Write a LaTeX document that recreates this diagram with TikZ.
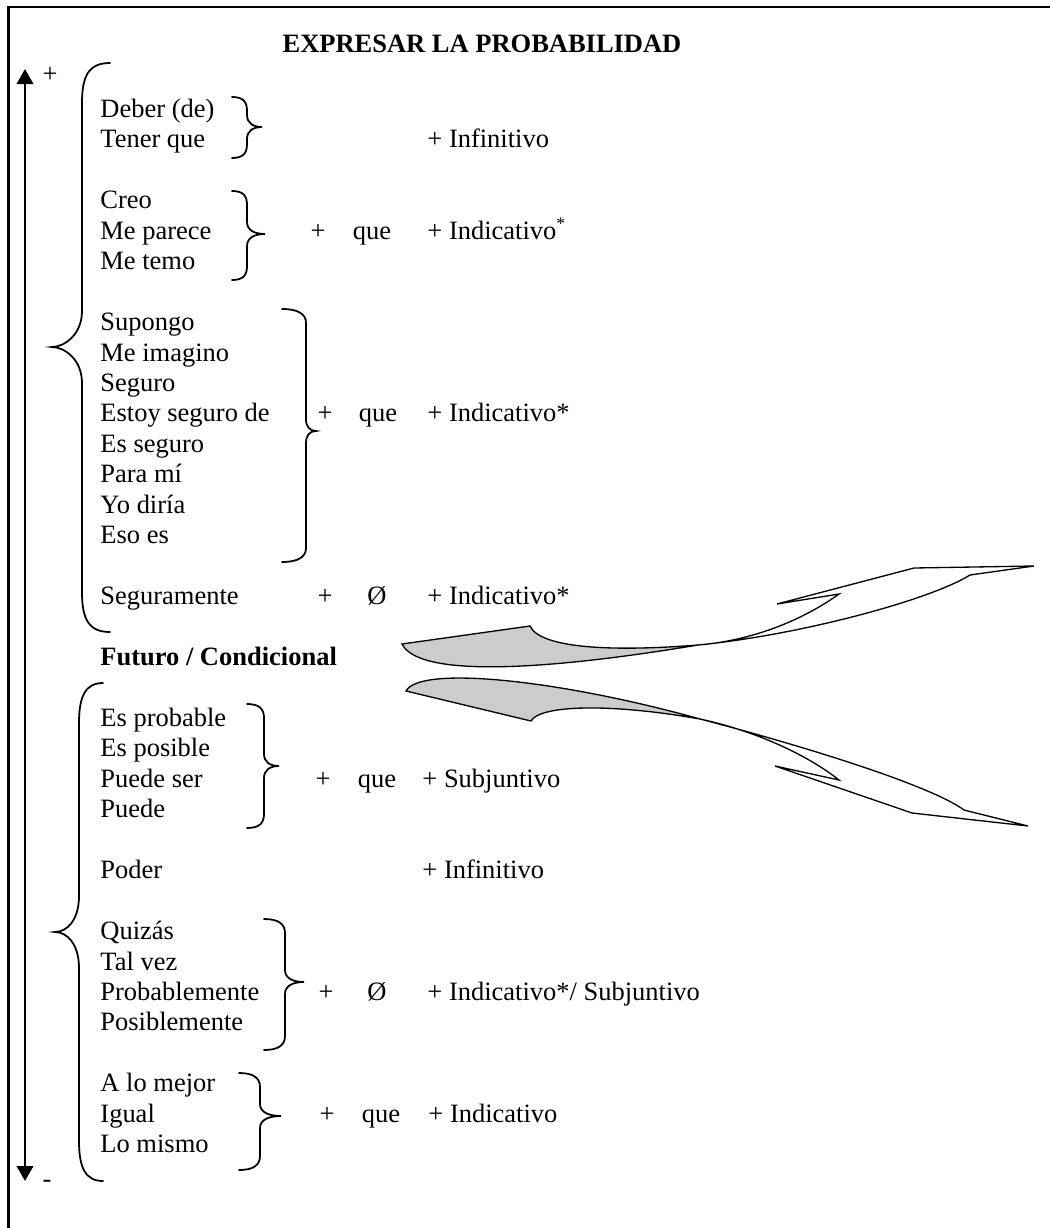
\documentclass[tikz,border=0pt]{standalone}
\usepackage{fontspec}
\setmainfont{Liberation Serif}
\usetikzlibrary{arrows.meta}
% right-hand brace: curl end x, vertical x, tip x, top y, tip y, bottom y
\newcommand\rbr[6]{%
  \draw[brace] (#1,#4) .. controls ({(#1+#2)/2+4},#4) and (#2,{#4+5}) .. (#2,{#4+14})
    -- (#2,{#5-12}) .. controls (#2,{#5-4}) and ({#2+(#3-#2)*0.4},#5) .. (#3,#5)
    .. controls ({#2+(#3-#2)*0.4},#5) and (#2,{#5+4}) .. (#2,{#5+12})
    -- (#2,{#6-14}) .. controls (#2,{#6-5}) and ({(#1+#2)/2+4},#6) .. (#1,#6);}
% left-hand bracket with a point
\newcommand\lbr[6]{%
  \draw[brace] (#1,#4) .. controls ({#2+6},#4) and (#2,{#4+14}) .. (#2,{#4+40})
    -- (#2,{#5-36}) .. controls (#2,{#5-12}) and ({#3+12},#5) .. (#3,#5)
    .. controls ({#3+12},#5) and (#2,{#5+12}) .. (#2,{#5+36})
    -- (#2,{#6-40}) .. controls (#2,{#6-14}) and ({#2+6},#6) .. (#1,#6);}
\begin{document}
\begin{tikzpicture}[x=0.4531pt,y=-0.4531pt,
  txt/.style={anchor=base west,inner sep=0pt,font=\fontsize{12}{14}\selectfont},
  ctr/.style={anchor=base,inner sep=0pt,font=\fontsize{12}{14}\selectfont},
  bold/.style={txt,font=\fontsize{12}{14}\selectfont\bfseries},
  brace/.style={line width=0.8pt,line cap=round},
  ribbon/.style={line width=0.6pt,line join=miter},
  shade/.style={fill=black!20}]
\useasboundingbox (0,0) rectangle (1050,1228);

% frame (left and top edges)
\draw[line width=1.2pt] (8.5,1228) -- (8.5,7) -- (1050,7);

% title
\node[ctr,font=\fontsize{12}{14}\selectfont\bfseries] (title) at (482,53) {EXPRESAR LA PROBABILIDAD};

% probability scale
\coordinate (hi) at (25,69);
\coordinate (lo) at (25,1181);
\draw[line width=1.2pt,{Triangle[width=7.4pt,length=6.8pt]}-{Triangle[width=7.4pt,length=6.8pt]}] (lo) -- (hi);
\node[ctr] (plus) at (50,83) {+};
\node[ctr] (minus) at (47,1187) {-};

% outer brackets
\lbr{110}{82}{52}{63}{347}{632}
\lbr{103}{79}{55}{683}{932}{1181}

% group 1
\node[txt] (deber) at (100,117.4) {Deber (de)};
\node[txt] (tener) at (100,147.85) {Tener que};
\rbr{232}{247}{262}{97}{127}{158}
\node[txt] (inf1) at (427,147.85) {+ Infinitivo};

% group 2
\node[txt] (creo) at (100,208.75) {Creo};
\node[txt] (parece) at (100,239.2) {Me parece};
\node[txt] (temo) at (100,269.65) {Me temo};
\rbr{232}{247}{265}{191}{234}{280}
\node[ctr] (p2) at (318,239.2) {+};
\node[ctr] (que2) at (372,239.2) {que};
\node[txt] (ind2) at (427,239.2) {+ Indicativo\textsuperscript{*}};

% group 3
\node[txt] (supongo) at (100,330.55) {Supongo};
\node[txt] (imagino) at (100,361) {Me imagino};
\node[txt] (seguro) at (100,391.45) {Seguro};
\node[txt] (estoy) at (100,421.9) {Estoy seguro de};
\node[txt] (esseguro) at (100,452.35) {Es seguro};
\node[txt] (parami) at (100,482.8) {Para mí};
\node[txt] (diria) at (100,513.25) {Yo diría};
\node[txt] (esoes) at (100,543.7) {Eso es};
\rbr{282}{306}{316}{309}{431}{562}
\node[ctr] (p3) at (325,421.9) {+};
\node[ctr] (que3) at (378,421.9) {que};
\node[txt] (ind3) at (427,421.9) {+ Indicativo*};

% group 4
\node[txt] (seguramente) at (100,604.6) {Seguramente};
\node[ctr] (p4) at (325,604.6) {+};
\node[ctr] (null4) at (377,604.6) {Ø};
\node[txt] (ind4) at (427,604.6) {+ Indicativo*};

\node[bold] (futuro) at (100,665.5) {Futuro / Condicional};

% group 5
\node[txt] (probable) at (100,726.4) {Es probable};
\node[txt] (posible) at (100,756.85) {Es posible};
\node[txt] (puedeser) at (100,787.3) {Puede ser};
\node[txt] (puede) at (100,817.75) {Puede};
\rbr{247}{264}{279}{704}{766}{828}
\node[ctr] (p5) at (323,787.3) {+};
\node[ctr] (que5) at (377,787.3) {que};
\node[txt] (subj5) at (422,787.3) {+ Subjuntivo};

% group 6
\node[txt] (poder) at (100,878.65) {Poder};
\node[txt] (inf6) at (422,878.65) {+ Infinitivo};

% group 7
\node[txt] (quizas) at (100,939.55) {Quizás};
\node[txt] (talvez) at (100,970) {Tal vez};
\node[txt] (probablemente) at (100,1000.45) {Probablemente};
\node[txt] (posiblemente) at (100,1030.9) {Posiblemente};
\rbr{264}{285}{304}{919}{982}{1050}
\node[ctr] (p7) at (326,1000.45) {+};
\node[ctr] (null7) at (377,1000.45) {Ø};
\node[txt] (ind7) at (427,1000.45) {+ Indicativo*/ Subjuntivo};

% group 8
\node[txt] (mejor) at (100,1091.8) {A lo mejor};
\node[txt] (igual) at (100,1122.25) {Igual};
\node[txt] (mismo) at (100,1152.7) {Lo mismo};
\rbr{239}{260}{281}{1073}{1116}{1170}
\node[ctr] (p8) at (327,1122.25) {+};
\node[ctr] (que8) at (381,1122.25) {que};
\node[txt] (ind8) at (428,1122.25) {+ Indicativo};

% upper twisted ribbon arrow (pointing right and up)
\fill[shade] (402,644) -- (530,626) .. controls (540,648) and (610,652) .. (698,645)
  .. controls (560,668) and (420,680) .. (402,644) -- cycle;
\draw[ribbon] (402,644) -- (530,626) .. controls (540,648) and (610,652) .. (698,645)
  .. controls (760,640) and (810,615) .. (839,594) -- (777,604) -- (914,568)
  -- (1034,566) -- (970,575) .. controls (930,600) and (800,635) .. (698,645)
  .. controls (560,668) and (420,680) .. (402,644) -- cycle;

% lower twisted ribbon arrow (pointing right and down)
\fill[shade] (406,691) -- (531,721) .. controls (540,705) and (610,703) .. (700,719)
  .. controls (560,680) and (420,665) .. (406,691) -- cycle;
\draw[ribbon] (406,691) -- (531,721) .. controls (540,705) and (610,703) .. (700,719)
  .. controls (760,732) and (810,757) .. (839,780) -- (775,766) -- (912,813)
  -- (1028,826) -- (964,810) .. controls (930,785) and (800,745) .. (700,719)
  .. controls (560,680) and (420,665) .. (406,691) -- cycle;
\end{tikzpicture}
\end{document}
